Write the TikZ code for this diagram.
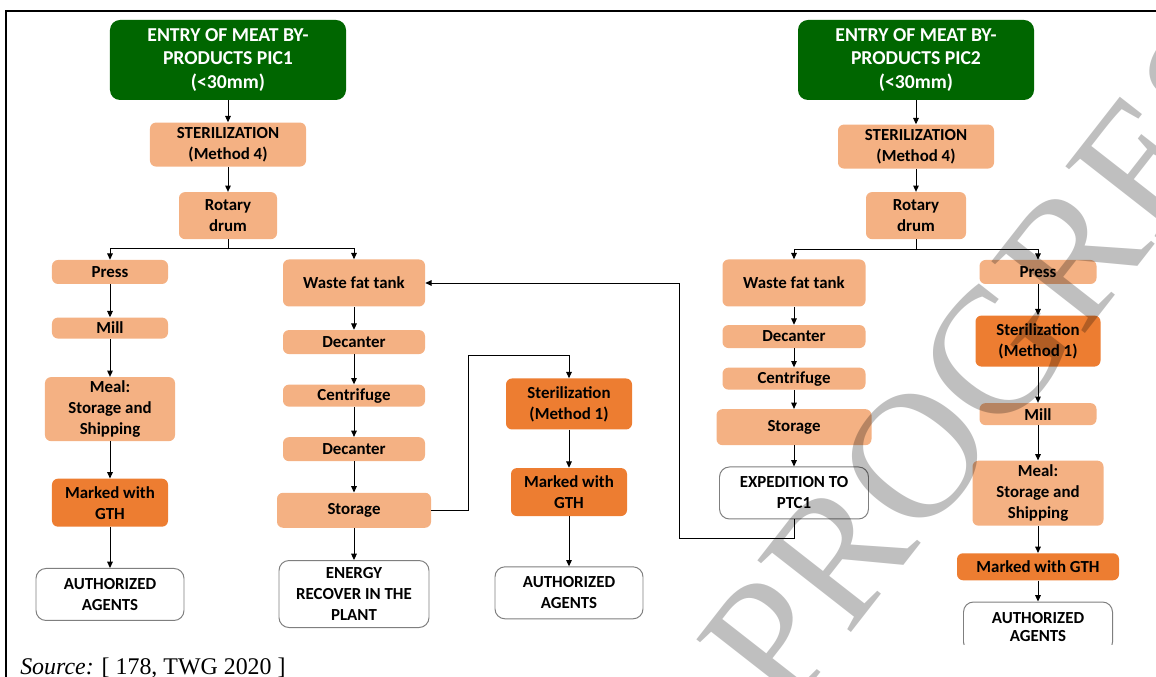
\documentclass[tikz,border=0pt]{standalone}
\usepackage{fontspec}
\setmainfont{Liberation Serif}
\newfontfamily\boxfont{Carlito}
\usetikzlibrary{arrows.meta, positioning}
\definecolor{entrygreen}{HTML}{006600}
\definecolor{paleorange}{HTML}{F4B183}
\definecolor{deeporange}{HTML}{ED7D31}
\definecolor{edgegray}{HTML}{7F7F7F}

\begin{document}
\begin{tikzpicture}[
  x=0.25mm, y=-0.25mm,
  font=\boxfont\bfseries\fontsize{12}{15}\selectfont,
  box/.style={rectangle, align=center, inner sep=0pt},
  entry/.style={box, fill=entrygreen, text=white, rounded corners=2.5mm,
                font=\boxfont\bfseries\fontsize{14}{16.6}\selectfont,
                minimum width=59mm, minimum height=20mm},
  pale/.style={box, fill=paleorange, rounded corners=1.5mm},
  deep/.style={box, fill=deeporange, rounded corners=1.5mm},
  final/.style={box, draw=edgegray, line width=0.7pt, fill=white, rounded corners=2.5mm},
  ln/.style={draw=black, line width=0.7pt},
  ar/.style={ln, -{Triangle[length=4.5pt, width=4pt]}}
]
\useasboundingbox (0,0) rectangle (1156,677);
\clip (0,0) rectangle (1156,677);
\draw[line width=0.55mm] (6,11) rectangle (1300,800);

% PIC1
\node[entry] (entry1) at (228,60) {ENTRY OF MEAT BY-\\PRODUCTS PIC1\\(<30mm)};
\node[pale, minimum width=39mm, minimum height=11mm, below=5.5mm of entry1] (ster1)
  {STERILIZATION\\(Method 4)};
\node[pale, minimum width=24.5mm, minimum height=11.75mm, below=6.25mm of ster1] (drum1)
  {Rotary\\drum};

\node[pale, minimum width=29mm, minimum height=6mm] (press1) at (110,272) {Press};
\node[pale, minimum width=29mm, minimum height=5.25mm, below=8.25mm of press1] (mill1) {Mill};
\node[pale, minimum width=32.5mm, minimum height=16mm, below=9.5mm of mill1] (meal1)
  {Meal:\\Storage and\\Shipping};
\node[deep, minimum width=29mm, minimum height=12mm, below=9.25mm of meal1] (gth1)
  {Marked with\\GTH};
\node[final, minimum width=37mm, minimum height=13mm, below=10.25mm of gth1] (auth1)
  {AUTHORIZED\\AGENTS};

\node[pale, minimum width=35.5mm, minimum height=11.75mm] (wft1) at (354,283) {Waste fat tank};
\node[pale, minimum width=35.5mm, minimum height=6mm, below=5.75mm of wft1] (dec1) {Decanter};
\node[pale, minimum width=35.5mm, minimum height=5.5mm, below=7.5mm of dec1] (cen1) {Centrifuge};
\node[pale, minimum width=35.5mm, minimum height=6mm, below=7.5mm of cen1] (dec2) {Decanter};
\node[pale, minimum width=38.5mm, minimum height=8.75mm, below=7.75mm of dec2] (stor1) {Storage};
\node[final, minimum width=37.5mm, minimum height=16.75mm, below=8mm of stor1] (energy)
  {ENERGY\\RECOVER IN THE\\PLANT};

\node[deep, minimum width=31.5mm, minimum height=12.75mm] (sterA) at (569,404)
  {Sterilization\\(Method 1)};
\node[deep, minimum width=29mm, minimum height=12mm, below=9.5mm of sterA] (gthA)
  {Marked with\\GTH};
\node[final, minimum width=37mm, minimum height=13mm, below=12.5mm of gthA] (auth2)
  {AUTHORIZED\\AGENTS};

% PIC2
\node[entry] (entry2) at (916,60) {ENTRY OF MEAT BY-\\PRODUCTS PIC2\\(<30mm)};
\node[pale, minimum width=39mm, minimum height=11mm, below=6mm of entry2] (ster2)
  {STERILIZATION\\(Method 4)};
\node[pale, minimum width=25mm, minimum height=11.75mm, below=5.75mm of ster2] (drum2)
  {Rotary\\drum};

\node[pale, minimum width=35.75mm, minimum height=11.75mm] (wft2) at (794,283) {Waste fat tank};
\node[pale, minimum width=35.75mm, minimum height=5.75mm, below=4.5mm of wft2] (dec3) {Decanter};
\node[pale, minimum width=35.75mm, minimum height=5.5mm, below=4.75mm of dec3] (cen2) {Centrifuge};
\node[pale, minimum width=38.75mm, minimum height=9mm, below=4.75mm of cen2] (stor2) {Storage};
\node[final, minimum width=37.25mm, minimum height=13mm, below=5.25mm of stor2] (exped)
  {EXPEDITION TO\\PTC1};

\node[pale, minimum width=29.25mm, minimum height=6mm] (press2) at (1038,272) {Press};
\node[deep, minimum width=31.25mm, minimum height=12.75mm, below=7.75mm of press2] (sterB)
  {Sterilization\\(Method 1)};
\node[pale, minimum width=29.25mm, minimum height=5.5mm, below=9mm of sterB] (mill2) {Mill};
\node[pale, minimum width=32.75mm, minimum height=16.25mm, below=8.75mm of mill2] (meal2)
  {Meal:\\Storage and\\Shipping};
\node[deep, minimum width=40.5mm, minimum height=6.75mm, below=6.75mm of meal2] (gth2)
  {Marked with GTH};
\begin{scope}
\clip (900,560) rectangle (1156,645);
\node[final, minimum width=37.25mm, minimum height=12.5mm, below=5.25mm of gth2] (auth3)
  {AUTHORIZED\\[-2pt]AGENTS};
\end{scope}

% connectors
\draw[ar] (entry1) -- (ster1);
\draw[ar] (ster1) -- (drum1);
\coordinate (fork1) at (228,248);
\draw[ln] (drum1.south) -- (fork1);
\draw[ar] (fork1) -| (press1.north);
\draw[ar] (fork1) -| (wft1.north);
\draw[ar] (press1) -- (mill1);
\draw[ar] (mill1) -- (meal1);
\draw[ar] (meal1) -- (gth1);
\draw[ar] (gth1) -- (auth1);
\draw[ar] (wft1) -- (dec1);
\draw[ar] (dec1) -- (cen1);
\draw[ar] (cen1) -- (dec2);
\draw[ar] (dec2) -- (stor1);
\draw[ar] (stor1) -- (energy);
\coordinate (hop1) at (468,355);
\draw[ar] (stor1.east) -| (hop1) -| (sterA.north);
\draw[ar] (sterA) -- (gthA);
\draw[ar] (gthA) -- (auth2);

\draw[ar] (entry2) -- (ster2);
\draw[ar] (ster2) -- (drum2);
\coordinate (fork2) at (916,249);
\draw[ln] (drum2.south) -- (fork2);
\draw[ar] (fork2) -| (wft2.north);
\draw[ar] (fork2) -| (press2.north);
\draw[ar] (wft2) -- (dec3);
\draw[ar] (dec3) -- (cen2);
\draw[ar] (cen2) -- (stor2);
\draw[ar] (stor2) -- (exped);
\coordinate (hop2) at (679,538);
\draw[ar] (exped.south) |- (hop2) |- (wft1.east);
\draw[ar] (press2) -- (sterB);
\draw[ar] (sterB) -- (mill2);
\draw[ar] (mill2) -- (meal2);
\draw[ar] (meal2) -- (gth2);
\draw[ar] (gth2) -- (auth3.north);

\node[font=\fontsize{17}{19}\selectfont, anchor=base west, inner sep=0pt] (source) at (20,675)
  {\textit{Source:} [ 178, TWG 2020 ]};

\node[font=\fontsize{128}{128}\selectfont, text=black, text opacity=0.25, rotate=52,
      inner sep=0pt] (stamp) at (1020,322) {PROGRESS};
\end{tikzpicture}
\end{document}
